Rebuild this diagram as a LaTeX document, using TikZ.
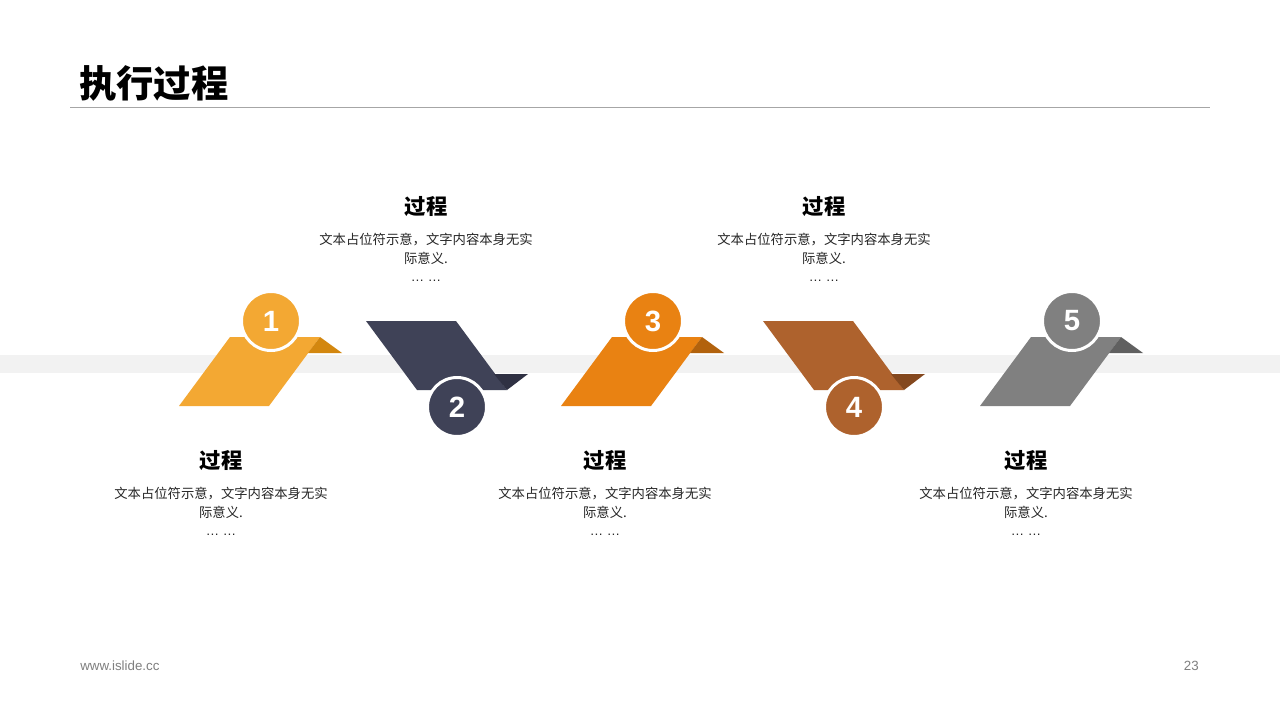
\documentclass[tikz,border=0pt]{standalone}
\usepackage{fontspec}
\setmainfont{Noto Sans CJK SC}
\newfontfamily\latinfont{Liberation Sans}
\definecolor{cA}{HTML}{F3A833}\definecolor{cAf}{HTML}{D3870F}
\definecolor{cB}{HTML}{3F4257}\definecolor{cBf}{HTML}{2F3143}
\definecolor{cC}{HTML}{E98212}\definecolor{cCf}{HTML}{B2620D}
\definecolor{cD}{HTML}{AE622D}\definecolor{cDf}{HTML}{84481E}
\definecolor{cE}{HTML}{808080}\definecolor{cEf}{HTML}{606060}
\definecolor{bandc}{HTML}{F2F2F2}
\definecolor{rulec}{HTML}{A6A6A6}
\definecolor{footc}{HTML}{7F7F7F}
\definecolor{bodyc}{HTML}{262626}
\tikzset{
  numcircle/.style={circle, draw=white, line width=2.25pt, minimum size=44.25pt, inner sep=0pt,
    text=white, font=\latinfont\bfseries\fontsize{22}{24}\selectfont},
  headtxt/.style={inner sep=0pt, font=\bfseries\fontsize{16}{18}\selectfont, text=black},
  bodytxt/.style={inner sep=0pt, anchor=north, align=center, text=bodyc, font=\fontsize{10}{14.2}\selectfont},
  foottxt/.style={inner sep=0pt, text=footc, font=\latinfont\fontsize{10}{12}\selectfont}
}
\newcommand{\stepUp}[4]{% bl x, main, fold, number
  \fill[#2] (#1,406) -- (#1+90,406) -- (#1+141,337) -- (#1+51,337) -- cycle;
  \fill[#3] (#1+141,337) -- (#1+163,353) -- (#1+129,353) -- cycle;
  \node[numcircle, fill=#2] (n#4) at (#1+92,321) {#4};
}
\newcommand{\stepDown}[4]{% tl x, main, fold, number
  \fill[#2] (#1,321) -- (#1+90,321) -- (#1+141,390) -- (#1+51,390) -- cycle;
  \fill[#3] (#1+128,374) -- (#1+162,374) -- (#1+141,390) -- cycle;
  \node[numcircle, fill=#2] (n#4) at (#1+91,407) {#4};
}
\newcommand{\txtBlock}[3]{% x, heading y, name
  \node[headtxt] (h#3) at (#1,#2) {过程};
  \node[bodytxt] (b#3) at (#1,#2+25.5) {文本占位符示意，文字内容本身无实\\际意义.\\{\latinfont … …}};
}
\begin{document}
\begin{tikzpicture}[x=0.75pt,y=-0.75pt]
\useasboundingbox (0,0) rectangle (1280,720);
\fill[white] (0,0) rectangle (1280,720);
\node[anchor=west, inner sep=0pt, font=\bfseries\fontsize{28}{32}\selectfont] (title) at (79,83) {执行过程};
\coordinate (rl) at (70,108);
\coordinate (rr) at (1210,108);
\draw[rulec, line width=0.75pt] (rl) -- (rr);
\fill[bandc] (0,355) rectangle (1280,373);
\stepUp{179}{cA}{cAf}{1}
\stepDown{366}{cB}{cBf}{2}
\stepUp{561}{cC}{cCf}{3}
\stepDown{763}{cD}{cDf}{4}
\stepUp{980}{cE}{cEf}{5}
\txtBlock{426}{207}{2}
\txtBlock{824}{207}{4}
\txtBlock{221}{461}{1}
\txtBlock{605}{461}{3}
\txtBlock{1026}{461}{5}
\node[foottxt, anchor=west] (web) at (80,666) {www.islide.cc};
\node[foottxt, anchor=east] (page) at (1199,666) {23};
\end{tikzpicture}
\end{document}
